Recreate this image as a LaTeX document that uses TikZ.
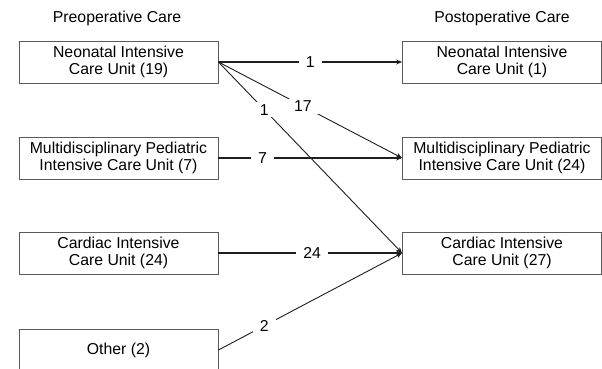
\documentclass[tikz,border=0pt]{standalone}
\usepackage{fontspec}
\setmainfont{Liberation Sans}
\usetikzlibrary{arrows.meta, positioning}
\definecolor{boxgray}{RGB}{90, 90, 90}
\definecolor{linedark}{RGB}{30, 30, 30}

\begin{document}
\begin{tikzpicture}[x=1pt, y=-1pt,
  unitbox/.style={draw=boxgray, line width=0.9pt, minimum width=199pt, minimum height=42pt, inner sep=0pt, align=center, font=\fontsize{15.8}{17}\selectfont},
  heading/.style={font=\fontsize{15.8}{17}\selectfont},
  flowmain/.style={draw=linedark, line width=1.7pt, -{Stealth[length=6pt, width=5pt]}},
  flowthin/.style={draw=linedark, line width=0.9pt, -{Stealth[length=6pt, width=5pt]}},
  count/.style={fill=white, inner xsep=7pt, inner ysep=2pt, font=\fontsize{15.8}{17}\selectfont}]
  \useasboundingbox (0,0) rectangle (602,369);

  % Column headings
  \node[heading] (prehead) at (117, 18) {Preoperative Care};
  \node[heading] (posthead) at (502, 18) {Postoperative Care};

  % Preoperative units
  \node[unitbox] (pnicu) at (118.5, 62) {Neonatal Intensive\\Care Unit (19)};
  \node[unitbox] (pmpicu) at (118.5, 158) {Multidisciplinary Pediatric\\Intensive Care Unit (7)};
  \node[unitbox] (pcicu) at (118.5, 253) {Cardiac Intensive\\Care Unit (24)};
  \node[unitbox] (pother) at (118.5, 350) {Other (2)};

  % Postoperative units
  \node[unitbox] (qnicu) at (502, 62) {Neonatal Intensive\\Care Unit (1)};
  \node[unitbox] (qmpicu) at (502, 158) {Multidisciplinary Pediatric\\Intensive Care Unit (24)};
  \node[unitbox] (qcicu) at (502, 253) {Cardiac Intensive\\Care Unit (27)};

  % Transfers
  \draw[flowmain] (pnicu.east) -- node[count, pos=0.5] {1} (qnicu.west);
  \draw[flowthin] (pnicu.east) -- node[count, pos=0.46] {17} (qmpicu.west);
  \draw[flowthin] (pnicu.east) -- node[count, pos=0.25] {1} (qcicu.west);
  \draw[flowmain] (pmpicu.east) -- node[count, pos=0.24] {7} (qmpicu.west);
  \draw[flowmain] (pcicu.east) -- node[count, pos=0.51] {24} (qcicu.west);
  \draw[flowthin] (pother.east) -- node[count, pos=0.25] {2} (qcicu.west);
\end{tikzpicture}
\end{document}
